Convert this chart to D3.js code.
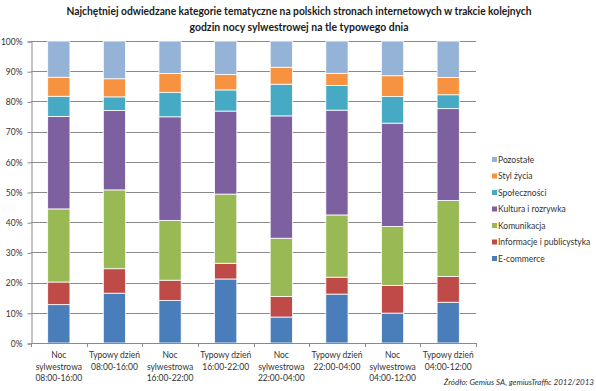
<!DOCTYPE html>
<html>
<head>
<meta charset="utf-8">
<script src="https://cdn.jsdelivr.net/npm/d3@7"></script>
<style>
  body { margin: 0; background: #fff; }
  text { font-family: Lato, "Open Sans", sans-serif; }
</style>
</head>
<body>
<svg id="chart" width="596" height="391"></svg>
<script>
//
// Data
//
const titleLines = [
  "Najchętniej odwiedzane kategorie tematyczne na polskich stronach internetowych w trakcie kolejnych",
  "godzin nocy sylwestrowej na tle typowego dnia"
];
// x labels, one array of lines per bar
const categories = [
  ["Noc", "sylwestrowa", "08:00-16:00"],
  ["Typowy dzień", "08:00-16:00"],
  ["Noc", "sylwestrowa", "16:00-22:00"],
  ["Typowy dzień", "16:00-22:00"],
  ["Noc", "sylwestrowa", "22:00-04:00"],
  ["Typowy dzień", "22:00-04:00"],
  ["Noc", "sylwestrowa", "04:00-12:00"],
  ["Typowy dzień", "04:00-12:00"]
];
// stacked from bottom to top
const seriesNames = ["E-commerce", "Informacje i publicystyka", "Komunikacja",
  "Kultura i rozrywka", "Społeczności", "Styl życia", "Pozostałe"];
const ecommerce   = [12.7, 16.5, 14.1, 21.2, 8.6, 16.2, 9.9, 13.5];
const informacje  = [7.5, 8.1, 6.7, 5.2, 6.8, 5.6, 9.2, 8.5];
const komunikacja = [24.2, 26.1, 19.8, 22.9, 19.3, 20.6, 19.5, 25.2];
const kultura     = [30.6, 26.3, 34.3, 27.5, 40.5, 34.7, 34.2, 30.4];
const spolecznosci = [6.7, 4.5, 8.1, 7.0, 10.5, 8.2, 8.8, 4.6];
const stylZycia   = [6.3, 6.0, 6.2, 5.1, 5.6, 4.0, 6.9, 5.7];
const pozostale   = [12.0, 12.5, 10.8, 11.1, 8.7, 10.7, 11.5, 12.1];
const yTicks = [0, 10, 20, 30, 40, 50, 60, 70, 80, 90, 100];
const source = "Źródło: Gemius SA, gemiusTraffic 2012/2013";

// colours (excel 2010 palette, a bit muted like the jpeg)
const colors = ["#4a7ebb", "#be4b48", "#98b954", "#7d60a0", "#46aac5", "#f69240", "#95b3d7"];

//
// Layout
//
const svg = d3.select("#chart");
const plot = { left: 31, right: 476, top: 41, bottom: 343 };

const seriesValues = [ecommerce, informacje, komunikacja, kultura, spolecznosci, stylZycia, pozostale];
const rows = categories.map(function(c, i) {
  const r = { idx: i };
  seriesNames.forEach(function(n, j) { r[n] = seriesValues[j][i]; });
  return r;
});
const stack = d3.stack().keys(seriesNames);
const layers = stack(rows);

const x = d3.scaleBand()
  .domain(d3.range(categories.length))
  .range([plot.left, plot.right])
  .paddingInner(0.6)
  .paddingOuter(0.3);
const step = x.step();
const y = d3.scaleLinear().domain([0, 100]).range([plot.bottom, plot.top]);

// title
svg.append("g").selectAll("text")
  .data(titleLines)
  .enter().append("text")
  .attr("x", 299)
  .attr("y", function(d, i) { return 15 + i * 15.5; })
  .attr("text-anchor", "middle")
  .attr("font-weight", "bold")
  .attr("font-size", "10.5px")
  .attr("fill", "#1a1a1a")
  .attr("textLength", function(d, i) { return i === 0 ? 465 : 219; })
  .attr("lengthAdjust", "spacingAndGlyphs")
  .text(function(d) { return d; });

// gridlines
svg.append("g").selectAll("line")
  .data(yTicks.slice(1))
  .enter().append("line")
  .attr("x1", plot.left).attr("x2", plot.right)
  .attr("y1", function(d) { return Math.round(y(d)) + 0.5; })
  .attr("y2", function(d) { return Math.round(y(d)) + 0.5; })
  .attr("stroke", "#8a8a8a")
  .attr("stroke-width", 1);

// y axis
const yAxis = d3.axisLeft(y)
  .tickValues(yTicks)
  .tickFormat(function(d) { return d + "%"; })
  .tickSize(4)
  .tickPadding(5);
const yg = svg.append("g")
  .attr("transform", "translate(" + (plot.left + 0.5) + ",0.5)")
  .call(yAxis);
yg.select(".domain").attr("stroke", "#8a8a8a");
yg.selectAll(".tick line").attr("stroke", "#8a8a8a");
yg.selectAll(".tick text")
  .attr("font-size", "8.5px")
  .attr("fill", "#333")
  .style("font-family", "Lato, sans-serif");

// bars
svg.append("g").selectAll("g")
  .data(layers)
  .enter().append("g")
  .attr("fill", function(d, i) { return colors[i]; })
  .selectAll("rect")
  .data(function(d) { return d; })
  .enter().append("rect")
  .attr("x", function(d) { return x(d.data.idx); })
  .attr("width", x.bandwidth())
  .attr("y", function(d) { return y(d[1]); })
  .attr("height", function(d) { return y(d[0]) - y(d[1]); })
  .attr("stroke", "#fff")
  .attr("stroke-width", 0.8);

// x axis (ticks at band boundaries)
const xg = svg.append("g");
xg.append("line")
  .attr("x1", plot.left).attr("x2", plot.right)
  .attr("y1", plot.bottom + 0.5).attr("y2", plot.bottom + 0.5)
  .attr("stroke", "#8a8a8a");
xg.selectAll("line.tk")
  .data(d3.range(categories.length + 1))
  .enter().append("line")
  .attr("class", "tk")
  .attr("x1", function(d) { return Math.round(plot.left + d * step) + 0.5; })
  .attr("x2", function(d) { return Math.round(plot.left + d * step) + 0.5; })
  .attr("y1", plot.bottom).attr("y2", plot.bottom + 4)
  .attr("stroke", "#8a8a8a");

const lbl = xg.selectAll("text.lbl")
  .data(categories)
  .enter().append("text")
  .attr("class", "lbl")
  .attr("text-anchor", "middle")
  .attr("font-size", "8.5px")
  .attr("fill", "#333");
lbl.selectAll("tspan")
  .data(function(d, i) { return d.map(function(t) { return { t: t, i: i }; }); })
  .enter().append("tspan")
  .attr("x", function(d) { return x(d.i) + x.bandwidth() / 2; })
  .attr("y", function(d, j) { return 358 + j * 11.5; })
  .text(function(d) { return d.t; });

// legend (top item = top of stack)
const legendItems = seriesNames.map(function(n, i) { return { name: n, color: colors[i] }; }).reverse();
const lg = svg.append("g").attr("transform", "translate(492,0)");
const li = lg.selectAll("g")
  .data(legendItems)
  .enter().append("g")
  .attr("transform", function(d, i) { return "translate(0," + (160 + i * 16.5) + ")"; });
li.append("rect")
  .attr("x", 0).attr("y", -3)
  .attr("width", 5).attr("height", 5)
  .attr("fill", function(d) { return d.color; });
li.append("text")
  .attr("x", 6).attr("y", 2.5)
  .attr("font-size", "8.5px")
  .attr("fill", "#333")
  .text(function(d) { return d.name; });

// source
svg.append("text")
  .attr("x", 594)
  .attr("y", 385)
  .attr("text-anchor", "end")
  .attr("font-size", "8px")
  .attr("font-style", "italic")
  .attr("fill", "#333")
  .text(source);
</script>
</body>
</html>
